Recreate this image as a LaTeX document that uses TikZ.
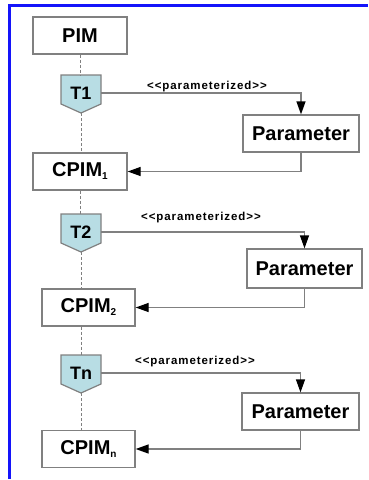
\documentclass[tikz,border=0pt]{standalone}
\usepackage{fontspec}
\setmainfont{Liberation Sans}
\usetikzlibrary{arrows.meta,calc}
\definecolor{frameblue}{RGB}{20,20,250}
\definecolor{boxgray}{RGB}{128,128,128}
\definecolor{shieldfill}{RGB}{184,221,228}
\newcommand\subidx[1]{\raisebox{-3pt}{\fontsize{10}{10}\selectfont #1}}
\tikzset{
  box/.style={draw=boxgray, line width=1.3pt, fill=white, minimum width=94pt,
    minimum height=37pt, inner sep=0pt, font=\fontsize{20}{20}\selectfont\bfseries},
  parbox/.style={box, minimum width=116pt},
  tnode/.style={minimum width=40pt, minimum height=20pt, inner sep=0pt,
    font=\fontsize{18}{18}\selectfont\bfseries},
  shieldshape/.style={draw=boxgray, line width=1.2pt, fill=shieldfill, line join=miter},
  conn/.style={draw=boxgray, line width=1.3pt},
  arr/.style={conn, -{Triangle[length=13pt,width=9pt,color=black]}},
  lifeline/.style={draw=boxgray, line width=1pt, dash pattern=on 3pt off 2pt},
  stereo/.style={inner sep=0pt, anchor=west,
    font=\fontsize{11.5}{11.5}\selectfont\bfseries\addfontfeature{LetterSpace=8}},
}
\begin{document}
\begin{tikzpicture}[x=1pt, y=-1pt]
  \useasboundingbox (0,0) rectangle (368,480);
  % window frame (top and left edges)
  \draw[frameblue, line width=3pt] (9.5,479) -- (9.5,5.5) -- (368,5.5);

  % model boxes
  \node[box] (pim) at (80,35.5) {PIM};
  \node[box] (c1) at (80,171.5) {CPIM\subidx{1}};
  \node[box, minimum width=93pt] (c2) at (88.5,307.5) {CPIM\subidx{2}};
  \node[box, minimum width=93pt] (cn) at (88.5,449) {CPIM\subidx{n}};

  % parameter boxes
  \node[parbox] (p1) at (301,133.5) {Parameter};
  \node[parbox, minimum width=115pt, minimum height=39pt] (p2) at (304.5,268.5) {Parameter};
  \node[parbox, minimum width=117pt] (p3) at (300.5,411.5) {Parameter};

  % transformation shields
  \begin{scope}[shift={(81,93)}]
    \path[shieldshape] (-20,-18) -- (20,-18) -- (20,11) -- (0,20) -- (-20,11) -- cycle;
    \node[tnode] (t1) at (0,0) {T1};
    \coordinate (t1top) at (0,-18);
    \coordinate (t1tip) at (0,20);
  \end{scope}
  \begin{scope}[shift={(81,232)}]
    \path[shieldshape] (-20,-18) -- (20,-18) -- (20,11) -- (0,20) -- (-20,11) -- cycle;
    \node[tnode] (t2) at (0,0) {T2};
    \coordinate (t2top) at (0,-18);
    \coordinate (t2tip) at (0,20);
  \end{scope}
  \begin{scope}[shift={(81,373)}]
    \path[shieldshape] (-20,-18) -- (20,-18) -- (20,11) -- (0,20) -- (-20,11) -- cycle;
    \node[tnode] (tn) at (0,0) {Tn};
    \coordinate (tntop) at (0,-18);
    \coordinate (tntip) at (0,20);
  \end{scope}

  % lifeline between models and transformations
  \draw[lifeline] (pim.south) -- (pim.south |- t1top);
  \draw[lifeline] (t1tip) -- (t1tip |- c1.north);
  \draw[lifeline] (c1.south) -- (c1.south |- t2top);
  \draw[lifeline] (t2tip) -- (t2tip |- c2.north);
  \draw[lifeline] (tntop |- c2.south) -- (tntop);
  \draw[lifeline] (tntip) -- (tntip |- cn.north);

  % parameterization connectors
  \draw[arr] (t1.east) -| (p1.north);
  \draw[arr] (p1.south) |- (c1.east);
  \draw[arr] (t2.east) -| (p2.north);
  \draw[arr] (p2.south) |- (c2.east);
  \draw[arr] (tn.east) -| (p3.north);
  \draw[arr] (p3.south) |- (cn.east);

  % stereotype labels
  \node[stereo] (l1) at (147,87) {<{}<parameterized>{}>};
  \node[stereo] (l2) at (141,218) {<{}<parameterized>{}>};
  \node[stereo] (l3) at (135,362) {<{}<parameterized>{}>};
\end{tikzpicture}
\end{document}
